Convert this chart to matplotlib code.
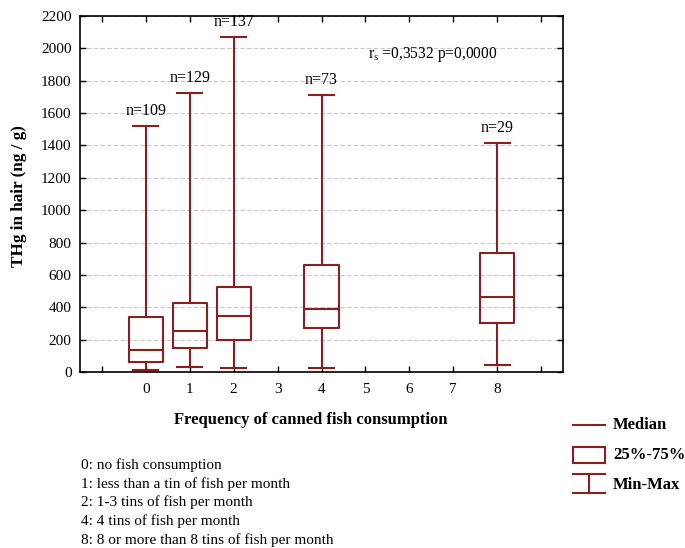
import matplotlib

matplotlib.use("Agg")
import matplotlib.pyplot as plt
from matplotlib.lines import Line2D
from matplotlib.patches import Rectangle

plt.rcParams["font.family"] = ["Liberation Serif", "DejaVu Serif"]
plt.rcParams["mathtext.fontset"] = "custom"
plt.rcParams["mathtext.rm"] = "Liberation Serif"

# frequency groups and their hair THg summary (ng/g)
groups = [0, 1, 2, 4, 8]
thg_min = [10, 33, 27, 27, 43]
thg_q1 = [62, 150, 198, 272, 305]
thg_median = [136, 253, 344, 387, 465]
thg_q3 = [342, 428, 523, 663, 737]
thg_max = [1520, 1726, 2073, 1714, 1413]
n_counts = [109, 129, 137, 73, 29]

tick_positions = list(range(-1, 10))
tick_labels = ["", "0", "1", "2", "3", "4", "5", "6", "7", "8", ""]
legend_lines = [
    "0: no fish consumption",
    "1: less than a tin of fish per month",
    "2: 1-3 tins of fish per month",
    "4: 4 tins of fish per month",
    "8: 8 or more than 8 tins of fish per month",
]

BOX_COLOR = "#8b1e1e"
W, H = 685, 548


def px(x, y):
    # pixel position (from top-left) to figure fraction
    return x / W, 1 - y / H


fig = plt.figure(figsize=(W / 100, H / 100), dpi=100)
ax = fig.add_axes([80 / W, 1 - 372 / H, 483 / W, 356 / H])

stats = [
    {"whislo": lo, "q1": q1, "med": med, "q3": q3, "whishi": hi, "fliers": []}
    for lo, q1, med, q3, hi in zip(thg_min, thg_q1, thg_median, thg_q3, thg_max)
]
line_kw = {"color": BOX_COLOR, "linewidth": 1.5}
ax.bxp(
    stats,
    positions=groups,
    widths=0.78,
    capwidths=0.57,
    showfliers=False,
    boxprops=line_kw,
    whiskerprops=line_kw,
    capprops=line_kw,
    medianprops=line_kw,
    manage_ticks=False,
)

for g, hi, n in zip(groups, thg_max, n_counts):
    ax.annotate(
        f"n={n}",
        (g, hi),
        xytext=(0, 5),
        textcoords="offset points",
        ha="center",
        va="bottom",
        fontsize=11.5,
    )

ax.text(5.05, 1960, r"r$_\mathrm{s}$ =0,3532 p=0,0000", fontsize=11.2, va="center", ha="left")

ax.set_xlim(-1.5, 9.5)
ax.set_ylim(0, 2200)
ax.set_xticks(tick_positions)
ax.set_xticklabels(tick_labels)
ax.set_yticks(range(0, 2201, 200))
ax.tick_params(axis="both", direction="in", top=True, right=True, length=4, width=1, labelsize=11)
ax.tick_params(axis="x", pad=8)
ax.tick_params(axis="y", pad=6)
ax.yaxis.grid(True, color="#c8c8c8", linestyle=(0, (4, 2)), linewidth=0.8)
ax.set_axisbelow(True)
for sp in ax.spines.values():
    sp.set_linewidth(1.2)

fig.text(*px(19, 196), "THg in hair (ng / g)", rotation=90, ha="center", va="center",
         fontsize=12.3, fontweight="bold")
fig.text(*px(311, 420), "Frequency of canned fish consumption", ha="center", va="center",
         fontsize=12, fontweight="bold")

for i, line in enumerate(legend_lines):
    fig.text(*px(81, 465 + i * 18.8), line, ha="left", va="center", fontsize=11)

# legend keys for the box elements
fig.add_artist(Line2D([573 / W, 605 / W], [1 - 425 / H] * 2, transform=fig.transFigure, **line_kw))
fig.add_artist(Rectangle(px(573, 463), 32 / W, 16 / H, transform=fig.transFigure,
                         fill=False, edgecolor=BOX_COLOR, linewidth=1.5))
fig.add_artist(Line2D([573 / W, 605 / W], [1 - 474 / H] * 2, transform=fig.transFigure, **line_kw))
fig.add_artist(Line2D([573 / W, 605 / W], [1 - 493 / H] * 2, transform=fig.transFigure, **line_kw))
fig.add_artist(Line2D([589 / W, 589 / W], [1 - 474 / H, 1 - 493 / H], transform=fig.transFigure, **line_kw))
for y, label in zip([425, 455, 485], ["Median", "25%-75%", "Min-Max"]):
    fig.text(*px(613, y), label, ha="left", va="center", fontsize=12, fontweight="bold")

fig.savefig("out.png", dpi=100)
